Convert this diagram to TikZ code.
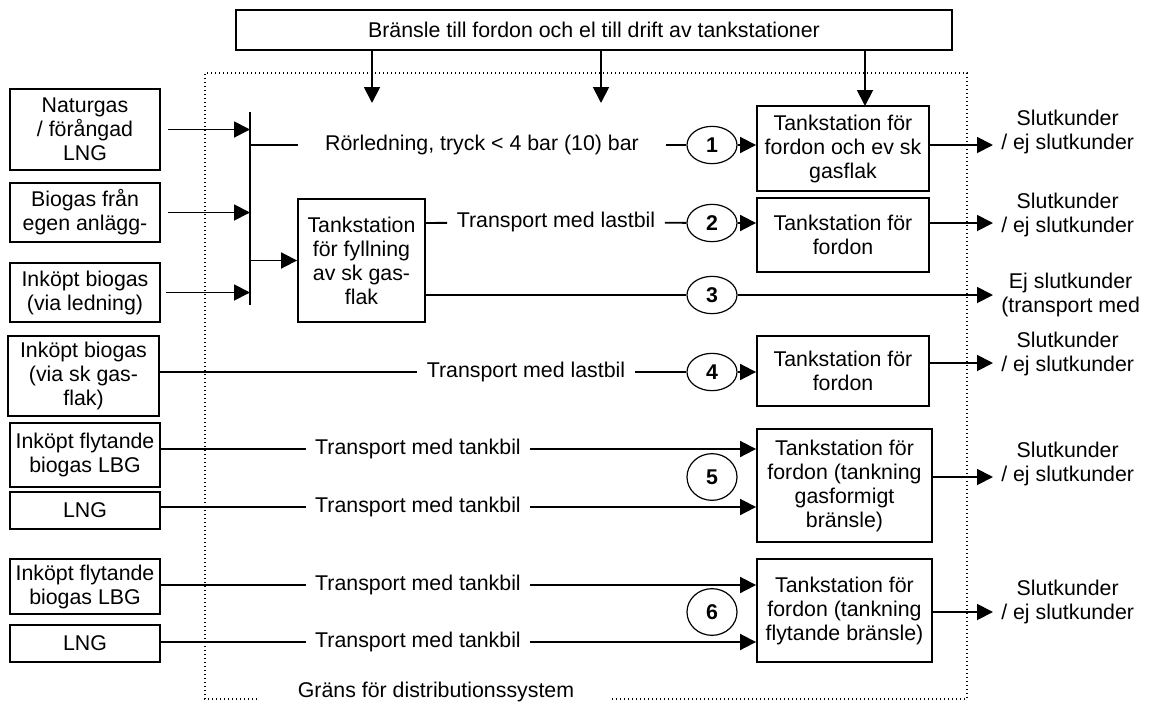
\documentclass[tikz,border=0pt]{standalone}
\usepackage{fontspec}
\setmainfont{Liberation Sans}
\usetikzlibrary{arrows.meta,shapes.geometric}

\tikzset{
  box/.style={draw,line width=1.4pt,fill=white,align=center,inner sep=0pt},
  wh/.style 2 args={minimum width=#1*0.75pt,minimum height=#2*0.75pt},
  num/.style={ellipse,draw,line width=0.9pt,inner sep=0pt,font=\fontsize{16}{18}\selectfont\bfseries},
  lbl/.style={align=center,inner ysep=0pt,inner xsep=7pt},
  arr/.style={-{Triangle[length=12pt,width=12pt]},line width=1.4pt},
  ln/.style={line width=1.4pt},
  grans/.style={dotted,line width=1pt}
}

\begin{document}
\begin{tikzpicture}[x=0.75pt,y=-0.75pt,font=\fontsize{16}{18}\selectfont]
  \useasboundingbox (0,0) rectangle (1157,704);

  % system boundary
  \node (gr) [anchor=base] at (436,697) {Gräns för distributionssystem};
  \draw[grans] (257,699) -- (205,699) -- (205,73) -- (967,73) -- (967,699) -- (610,699);

  % boxes
  \begin{scope}[every node/.style={box}]
    \node[wh={716}{40}] (top) at (594,30) {Bränsle till fordon och el till drift av tankstationer};
    \node[wh={150}{81}] (nat) at (85,129.5) {Naturgas\\/ förångad\\LNG};
    \node[wh={150}{59}] (bio) at (85,212.5) {Biogas från\\egen anlägg-};
    \node[wh={150}{59}] (inkled) at (85,292.5) {Inköpt biogas\\(via ledning)};
    \node[wh={151}{80}] (inkflak) at (83.5,376) {Inköpt biogas\\(via sk gas-\\flak)};
    \node[wh={150}{64}] (lbga) at (85,455) {Inköpt flytande\\biogas LBG};
    \node[wh={150}{37}] (lnga) at (85,510.5) {LNG};
    \node[wh={150}{55}] (lbgb) at (85,586.5) {Inköpt flytande\\biogas LBG};
    \node[wh={150}{37}] (lngb) at (85,643.5) {LNG};
    \node[wh={127}{123}] (fill) at (361.5,260.5) {Tankstation\\för fyllning\\av sk gas-\\flak};
    \node[wh={172}{85}] (ts1) at (843,148.5) {Tankstation för\\fordon och ev sk\\gasflak};
    \node[wh={172}{74}] (ts2) at (843,235) {Tankstation för\\fordon};
    \node[wh={172}{70}] (ts4) at (843,371) {Tankstation för\\fordon};
    \node[wh={175}{113}] (ts5) at (844.5,485.5) {Tankstation för\\fordon (tankning\\gasformigt\\bränsle)};
    \node[wh={175}{103}] (ts6) at (844.5,610.5) {Tankstation för\\fordon (tankning\\flytande bränsle)};
  \end{scope}

  % numbered rings
  \begin{scope}[every node/.style={num,minimum width=37.5pt,minimum height=28pt}]
    \node (c1) at (712,145) {1};
    \node (c2) at (712,223) {2};
    \node (c3) at (712,295) {3};
    \node (c4) at (712,372) {4};
  \end{scope}
  \begin{scope}[every node/.style={num,minimum width=37.5pt,minimum height=35pt}]
    \node (c5) at (712,477) {5};
    \node (c6) at (712,612) {6};
  \end{scope}

  % texts on the lines
  \node[lbl,inner xsep=20pt] (t1) at (482,145) {Rörledning, tryck < 4 bar (10) bar};
  \node[lbl] (t2) at (556,222) {Transport med lastbil};
  \node[lbl] (t4) at (526,372) {Transport med lastbil};
  \node[lbl] (t5a) at (418,449) {Transport med tankbil};
  \node[lbl] (t5b) at (418,507) {Transport med tankbil};
  \node[lbl] (t6a) at (418,585) {Transport med tankbil};
  \node[lbl] (t6b) at (418,642) {Transport med tankbil};

  % customers
  \begin{scope}[every node/.style={lbl,anchor=west,inner xsep=6pt}]
    \node (o1) at (993,132) {Slutkunder\\/ ej slutkunder};
    \node (o2) at (993,215) {Slutkunder\\/ ej slutkunder};
    \node (o3) at (993,295) {Ej slutkunder\\(transport med};
    \node (o4) at (993,354) {Slutkunder\\/ ej slutkunder};
    \node (o5) at (993,464) {Slutkunder\\/ ej slutkunder};
    \node (o6) at (993,602) {Slutkunder\\/ ej slutkunder};
  \end{scope}

  \coordinate (bartop) at (250,112);
  \coordinate (barbot) at (250,305);
  \coordinate (d1) at (372,103);
  \coordinate (d2) at (601,103);
  \coordinate (d3) at (865,106);
  \coordinate (e4) at (993,363);

  \draw[ln] (bartop) -- (barbot);

  \begin{scope}[every path/.style={arr}]
    \path (top.south -| d1) edge (d1);
    \path (top.south -| d2) edge (d2);
    \path (top.south -| d3) edge (d3);
    \path ([xshift=5pt]nat.east) edge (nat.east -| bartop);
    \path ([xshift=5pt]bio.east) edge (bio.east -| bartop);
    \path ([xshift=4pt]inkled.east) edge (inkled.east -| bartop);
    \path (fill.west -| bartop) edge (fill.west);
    \path (c1) edge (ts1.west |- c1);
    \path (c2) edge (ts2.west |- c2);
    \path (c4) edge (ts4.west |- c4);
    \path (c3) edge (o3.west);
    \path (t5a) edge (ts5.west |- t5a);
    \path (t5b) edge (ts5.west |- t5b);
    \path (t6a) edge (ts6.west |- t6a);
    \path (t6b) edge (ts6.west |- t6b);
    \path (ts1.east |- c1) edge (o1.west |- c1);
    \path (ts2.east |- c2) edge (o2.west |- c2);
    \path (ts4.east |- e4) edge (e4);
    \path (ts5.east |- c5) edge (o5.west |- c5);
    \path (ts6.east |- c6) edge (o6.west |- c6);
  \end{scope}

  \begin{scope}[every path/.style={ln}]
    \path (bartop |- c1) edge (t1);
    \path (t1) edge (c1);
    \path (fill.east |- c2) edge (t2);
    \path (t2) edge (c2);
    \path (fill.east |- c3) edge (c3);
    \path (inkflak.east |- c4) edge (t4);
    \path (t4) edge (c4);
    \path (lbga.east |- t5a) edge (t5a);
    \path (lnga.east |- t5b) edge (t5b);
    \path (lbgb.east |- t6a) edge (t6a);
    \path (lngb.east |- t6b) edge (t6b);
  \end{scope}
\end{tikzpicture}
\end{document}
